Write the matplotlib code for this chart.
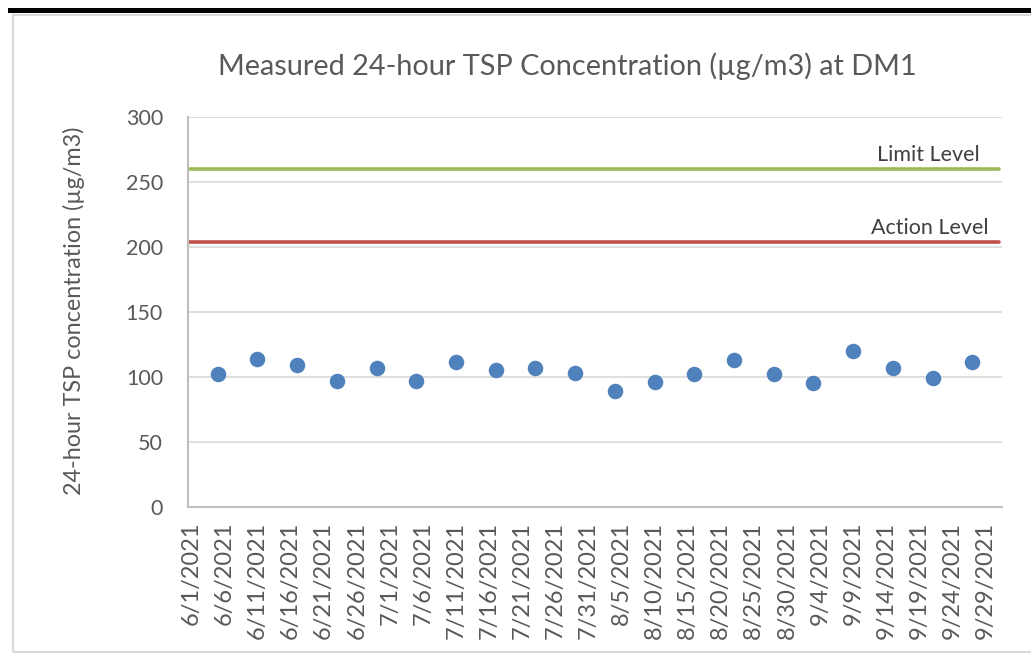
import datetime as dt
import matplotlib
matplotlib.use("Agg")
import matplotlib.pyplot as plt
from matplotlib.patches import Rectangle

# measured 24-hour TSP values at DM1
sample_dates = ["2021-06-05", "2021-06-11", "2021-06-17", "2021-06-23", "2021-06-29",
                "2021-07-05", "2021-07-11", "2021-07-17", "2021-07-23", "2021-07-29",
                "2021-08-04", "2021-08-10", "2021-08-16", "2021-08-22", "2021-08-28",
                "2021-09-03", "2021-09-09", "2021-09-15", "2021-09-21", "2021-09-27"]
tsp_values = [102, 114, 109, 97, 107, 97, 111, 105, 107, 103,
              89, 96, 102, 113, 102, 95, 120, 107, 99, 111]

action_level = 204
limit_level = 260

tick_dates = ["2021-06-01", "2021-06-06", "2021-06-11", "2021-06-16", "2021-06-21",
              "2021-06-26", "2021-07-01", "2021-07-06", "2021-07-11", "2021-07-16",
              "2021-07-21", "2021-07-26", "2021-07-31", "2021-08-05", "2021-08-10",
              "2021-08-15", "2021-08-20", "2021-08-25", "2021-08-30", "2021-09-04",
              "2021-09-09", "2021-09-14", "2021-09-19", "2021-09-24", "2021-09-29"]
axis_start = "2021-06-01"
axis_end = "2021-10-01"

plt.rcParams['font.family'] = ['Lato', 'DejaVu Sans']

to_date = lambda s: dt.datetime.strptime(s, "%Y-%m-%d")
x = [to_date(s) for s in sample_dates]
ticks = [to_date(s) for s in tick_dates]
half_day = dt.timedelta(hours=12)

fig = plt.figure(figsize=(10.31, 6.57), dpi=100)
W, H = 1031, 657

# page decorations: black rule on top, light grey chart border
fig.patches.append(Rectangle((8 / W, 1 - 12.5 / H), 1, 4.5 / H, transform=fig.transFigure,
                             facecolor='black', edgecolor='none'))
fig.patches.append(Rectangle((12.5 / W, 1 - 651.5 / H), 1.2, 637 / H, transform=fig.transFigure,
                             facecolor='none', edgecolor='#d9d9d9', lw=1.5))

ax = fig.add_axes([188 / W, 1 - 506.7 / H, 814 / W, 390 / H])

ax.set_ylim(0, 300)
ax.set_yticks(range(0, 301, 50))
ax.set_xlim(to_date(axis_start) - half_day, to_date(axis_end) + half_day)
ax.grid(axis='y', color='#d9d9d9', lw=1.2)
ax.set_axisbelow(True)

ax.axhline(limit_level, xmin=0, xmax=0.996, color='#9bbb59', lw=2.6, solid_capstyle='round')
ax.axhline(action_level, xmin=0, xmax=0.996, color='#c0504d', lw=2.6, solid_capstyle='round')
ax.scatter(x, tsp_values, s=125, color='#4f81bd', zorder=3, linewidths=0)

ax.text(0.973, limit_level + 3, "Limit Level", transform=ax.get_yaxis_transform(),
        ha='right', va='bottom', fontsize=15.5, color='#404040')
ax.text(0.983, action_level + 3, "Action Level", transform=ax.get_yaxis_transform(),
        ha='right', va='bottom', fontsize=15.5, color='#404040')

ax.set_xticks(ticks)
ax.set_xticklabels([f"{d.month}/{d.day}/{d.year}" for d in ticks], rotation=90)
ax.tick_params(axis='x', length=0, pad=11, labelsize=17, labelcolor='#595959')
ax.tick_params(axis='y', length=0, pad=18, labelsize=15.5, labelcolor='#595959')

for side in ['top', 'right']:
    ax.spines[side].set_visible(False)
for side in ['left', 'bottom']:
    ax.spines[side].set_color('#bfbfbf')
    ax.spines[side].set_linewidth(1.5)

fig.text(567 / W, 1 - 66 / H, "Measured 24-hour TSP Concentration (\u00b5g/m3) at DM1",
         ha='center', va='center', fontsize=20.8, color='#595959')
fig.text(74 / W, 1 - 311 / H, "24-hour TSP concentration (\u00b5g/m3)",
         ha='center', va='center', rotation=90, fontsize=16.8, color='#595959')

fig.savefig("out.png", dpi=100)
